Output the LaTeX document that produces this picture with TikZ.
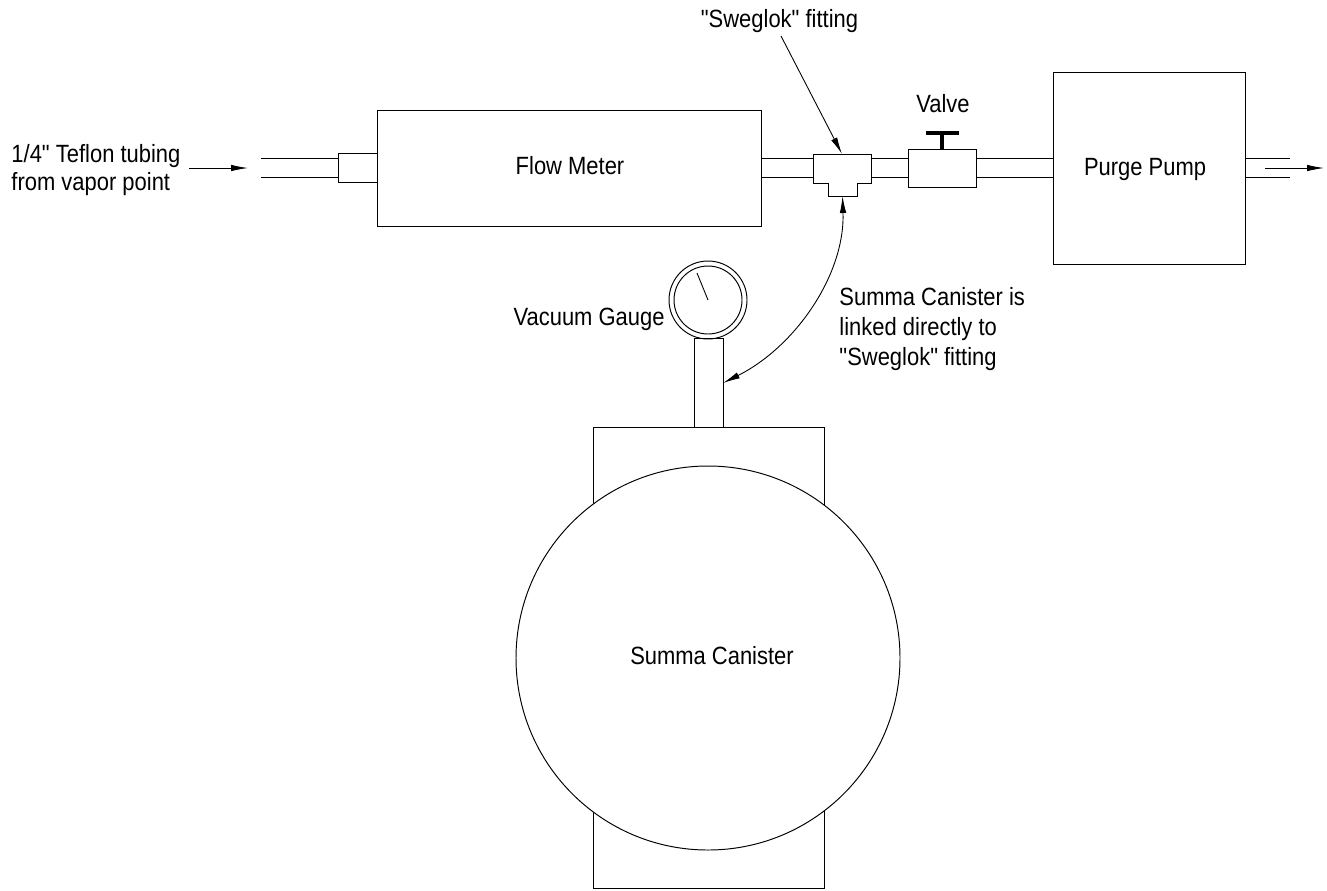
\documentclass[tikz,border=0pt]{standalone}
\usepackage{fontspec}
\setmainfont[FakeStretch=0.88,Ligatures=TeXOff]{Liberation Sans}
\usetikzlibrary{arrows.meta,calc,positioning}
\tikzset{
  part/.style 2 args={draw, fill=white, minimum width=#1*0.02cm, minimum height=#2*0.02cm, inner sep=0pt},
  pointer/.style={-{Latex[length=0.34cm,width=0.13cm]}, line width=0.5pt},
  both pointer/.style={{Latex[length=0.34cm,width=0.13cm]}-{Latex[length=0.34cm,width=0.13cm]}, line width=0.5pt},
  lbl/.style={font=\fontsize{14.2pt}{16pt}\selectfont, inner sep=0pt}
}
\begin{document}
\begin{tikzpicture}[x=0.02cm, y=-0.02cm, line width=0.55pt, every node/.style={lbl}]
  \useasboundingbox (0,0) rectangle (1327,890);
  % line components, all on the tube axis
  \node[part={40}{29}] (coupler) at (358,168) {};
  \node[part={384}{116}] (meter) at (569,168) {};
  \node[part={68}{38}] (valve) at (942,168) {};
  \node[part={192}{192}] (pump) at (1149,168) {};
  \coordinate (tubeIn) at (261,168);
  \coordinate (tubeOut) at (1290,168);
  % tee fitting
  \coordinate (teeW) at (813,168);
  \coordinate (teeE) at (871,168);
  \coordinate (teeTop) at (842,154);
  \coordinate (teeLeg) at (842.5,196);
  \draw (813,154) -- (871,154) -- (871,183) -- (857,183) -- (857,196) -- (828,196) -- (828,183) -- (813,183) -- cycle;
  % tube walls
  \foreach \d in {-9.7,9.7}{
    \draw ($(tubeIn)+(0,\d)$) -- ($(coupler.west)+(0,\d)$);
    \draw ($(meter.east)+(0,\d)$) -- ($(teeW)+(0,\d)$);
    \draw ($(teeE)+(0,\d)$) -- ($(valve.west)+(0,\d)$);
    \draw ($(valve.east)+(0,\d)$) -- ($(pump.west)+(0,\d)$);
    \draw ($(pump.east)+(0,\d)$) -- ($(tubeOut)+(0,\d)$);
  }
  % valve handle
  \draw[line width=2.4pt] (valve.north) -- (942,133);
  \draw[line width=2.8pt] (926,133) -- (959,133);
  % canister and gauge
  \node[part={231}{461}] (body) at (708.5,657.5) {};
  \node[draw, fill=white, circle, minimum size=384*0.02cm, inner sep=0pt] (sphere) at (708,658) {};
  \node[part={29}{89}] (neck) at (708.5,382.5) {};
  \node[draw, circle, minimum size=78*0.02cm, inner sep=0pt] (gaugeOut) at (708,300) {};
  \node[draw, circle, minimum size=68*0.02cm, inner sep=0pt] (gaugeIn) at (708,300) {};
  \draw[line width=0.5pt] (gaugeIn.center) -- (697,273);
  % labels
  \node[align=left, anchor=west] (inLbl) at (11,170) {1/4" Teflon tubing\\from vapor point};
  \node (meterLbl) at (570,166) {Flow Meter};
  \node (pumpLbl) at (1145,169) {Purge Pump};
  \node (valveLbl) at (943,104) {Valve};
  \node (teeLbl) at (779.5,21) {"Sweglok" fitting};
  \node[anchor=east] (gaugeLbl) at (665,319) {Vacuum Gauge};
  \node (canLbl) at (712,656) {Summa Canister};
  \node[align=left, anchor=west, font=\fontsize{14.2pt}{17.3pt}\selectfont] (linkLbl) at (839,329) {Summa Canister is\\linked directly to\\"Sweglok" fitting};
  % pointers
  \coordinate (inFrom) at (189,168);
  \coordinate (inTo) at (248,168);
  \coordinate (outFrom) at (1265,168);
  \coordinate (outTo) at (1324,168);
  \coordinate (teeFrom) at (781,36);
  \coordinate (neckTo) at (723,383);
  \draw[pointer] (inFrom) -- (inTo);
  \draw[pointer] (outFrom) -- (outTo);
  \draw[pointer] (teeFrom) -- (teeTop);
  \draw[both pointer] (teeLeg) .. controls (845,275) and (795,347) .. (neckTo);
\end{tikzpicture}
\end{document}
